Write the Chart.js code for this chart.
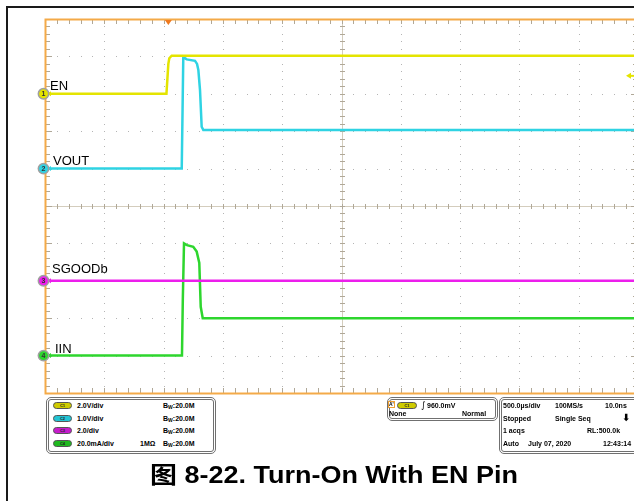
<!DOCTYPE html>
<html>
<head>
<meta charset="utf-8">
<script src="https://cdn.jsdelivr.net/npm/chart.js@4/dist/chart.umd.min.js"></script>
<style>
html,body{margin:0;padding:0;background:#fff;overflow:hidden;width:634px;height:501px;}
#wrap{position:relative;width:634px;height:501px;overflow:hidden;background:#fff;}
#frame{position:absolute;left:6px;top:6px;width:800px;height:600px;border-left:2px solid #1a1a1a;border-top:2px solid #1a1a1a;}
canvas{position:absolute;left:0;top:0;}
.t{position:absolute;white-space:nowrap;line-height:1;font-family:"Liberation Sans",Arial,sans-serif;color:#000;}
.b{font-weight:bold;}
.panel{position:absolute;box-sizing:border-box;border:3px double #707070;border-radius:5px;background:#fff;}
.chip{position:absolute;box-sizing:border-box;width:19px;height:7px;border-radius:4px;border:1px solid #555;font:bold 4px "Liberation Sans",Arial,sans-serif;line-height:5px;text-align:center;color:#222;}
</style>
</head>
<body>
<div id="wrap">
<div id="frame"></div>
<canvas id="c" width="660" height="501"></canvas>
<div id="overlay"></div>
</div>
<script>
// ---------- data ----------
const channelNames   = ["EN", "VOUT", "SGOODb", "IIN"];
const channelNumbers = ["1", "2", "3", "4"];
const channelScales  = [2.0, 1.0, 2.0, 20.0];   // units per division
const channelOffsets = [3, 1, -2, -4];          // divisions
const channelColors  = ["#e4e400", "#2fd3e3", "#ec1eec", "#2ed62e"];

// time in microseconds from the left edge of the screen (500 us/div)
const enTime   = [0, 1024, 1032, 1040, 1048, 1068, 5000];
const enVolts  = [0, 0, 0.8, 1.6, 1.9, 2.04, 2.04];

const voutTime  = [0, 1153, 1160, 1166, 1195, 1265, 1282, 1293, 1307, 1321, 1335, 5000];
const voutVolts = [0, 0, 1.6, 2.98, 2.92, 2.88, 2.80, 2.64, 2.10, 1.12, 1.03, 1.03];

const sgoodTime  = [0, 5000];
const sgoodVolts = [0, 0];

const iinTime      = [0, 1155, 1162, 1172, 1197, 1250, 1279, 1301, 1313, 1330, 5000];
const iinMilliamps = [0, 0, 30, 60, 59.1, 58.2, 55.6, 49.5, 26.1, 20, 20];

const triggerTime  = 1040;   // us
const triggerLevel = 0.96;   // V on C1
const triggerLabel = "960.0mV";

const scaleLabels = ["2.0V/div", "1.0V/div", "2.0/div", "20.0mA/div"];
const bandwidthLabel = "20.0M";
const timeReadout = [
  ["500.0µs/div", "100MS/s", "10.0ns"],
  ["Stopped", "Single Seq", ""],
  ["1 acqs", "", "RL:500.0k"],
  ["Auto", "July 07, 2020", "12:43:14"]
];
const caption = "图 8-22. Turn-On With EN Pin";

// ---------- build datasets ----------
const seriesTimes  = [enTime, voutTime, sgoodTime, iinTime];
const seriesValues = [enVolts, voutVolts, sgoodVolts, iinMilliamps];
const datasets = channelNames.map((name, k) => ({
  label: name,
  data: seriesTimes[k].map((t, i) => ({ x: t, y: channelOffsets[k] + seriesValues[k][i] / channelScales[k] })),
  borderColor: channelColors[k],
  borderWidth: 2.5,
  pointRadius: 0,
  tension: 0,
  fill: false
}));

const scopePlugin = {
  id: 'scope',
  beforeDatasetsDraw(chart) {
    const { ctx, chartArea: a, scales: { x, y } } = chart;
    ctx.save();
    // dotted graticule
    ctx.fillStyle = '#b4b4b4';
    for (let i = 1; i < 10; i++) {
      if (i === 5) continue;
      const px = Math.round(x.getPixelForValue(i * 500));
      for (let j = 1; j < 50; j++) {
        const py = Math.round(y.getPixelForValue(-5 + j * 0.2));
        ctx.fillRect(px, py, 1, 1);
      }
    }
    for (let i = -4; i <= 4; i++) {
      if (i === 0) continue;
      const py = Math.round(y.getPixelForValue(i));
      for (let j = 1; j < 50; j++) {
        const px = Math.round(x.getPixelForValue(j * 100));
        ctx.fillRect(px, py, 1, 1);
      }
    }
    // centre cross
    const cx = Math.round(x.getPixelForValue(2500)) + 0.5;
    const cy = Math.round(y.getPixelForValue(0)) + 0.5;
    ctx.strokeStyle = '#d4cdbd';
    ctx.lineWidth = 1;
    ctx.beginPath();
    ctx.moveTo(a.left, cy); ctx.lineTo(a.right, cy);
    ctx.moveTo(cx, a.top); ctx.lineTo(cx, a.bottom);
    ctx.stroke();
    // minor ticks
    ctx.strokeStyle = '#b0a898';
    ctx.beginPath();
    for (let j = 1; j < 50; j++) {
      const px = Math.round(x.getPixelForValue(j * 100)) + 0.5;
      ctx.moveTo(px, cy - 2.5); ctx.lineTo(px, cy + 2.5);
      ctx.moveTo(px, a.top); ctx.lineTo(px, a.top + 5);
      ctx.moveTo(px, a.bottom); ctx.lineTo(px, a.bottom - 5);
    }
    for (let j = 1; j < 50; j++) {
      const py = Math.round(y.getPixelForValue(-5 + j * 0.2)) + 0.5;
      ctx.moveTo(cx - 2.5, py); ctx.lineTo(cx + 2.5, py);
      const len = (j % 5 === 0) ? 7 : 5;
      ctx.moveTo(a.left, py); ctx.lineTo(a.left + len, py);
      ctx.moveTo(a.right, py); ctx.lineTo(a.right - len, py);
    }
    ctx.stroke();
    ctx.restore();
  },
  afterDatasetsDraw(chart) {
    const { ctx, chartArea: a, scales: { x, y } } = chart;
    ctx.save();
    // orange screen border
    ctx.strokeStyle = '#f4aa48';
    ctx.lineWidth = 2;
    ctx.strokeRect(a.left + 0.5, a.top + 0.5, a.right - a.left, a.bottom - a.top);
    // trigger position marker
    const tx = x.getPixelForValue(triggerTime);
    ctx.fillStyle = '#f07a1e';
    ctx.beginPath();
    ctx.moveTo(tx - 3.5, a.top + 1); ctx.lineTo(tx + 3.5, a.top + 1); ctx.lineTo(tx, a.top + 6);
    ctx.closePath(); ctx.fill();
    // trigger level arrow (C1)
    const ty = y.getPixelForValue(channelOffsets[0] + triggerLevel / channelScales[0]);
    ctx.fillStyle = channelColors[0];
    ctx.strokeStyle = channelColors[0];
    ctx.beginPath();
    ctx.moveTo(626, ty); ctx.lineTo(631, ty - 3); ctx.lineTo(631, ty + 3); ctx.closePath(); ctx.fill();
    ctx.lineWidth = 2;
    ctx.beginPath(); ctx.moveTo(630, ty); ctx.lineTo(a.right, ty); ctx.stroke();
    // channel ground markers
    channelNames.forEach((n, k) => {
      const py = y.getPixelForValue(channelOffsets[k]);
      ctx.fillStyle = channelColors[k];
      ctx.beginPath();
      ctx.moveTo(47, py); ctx.lineTo(51, py - 2.5); ctx.lineTo(51, py + 2.5); ctx.closePath(); ctx.fill();
      ctx.beginPath();
      ctx.arc(43.5, py, 5.2, 0, Math.PI * 2);
      ctx.fill();
      ctx.lineWidth = 1.5;
      ctx.strokeStyle = '#a0a0a0';
      ctx.stroke();
    });
    ctx.restore();
  }
};

const chart = new Chart(document.getElementById('c'), {
  type: 'line',
  data: { datasets },
  options: {
    responsive: false,
    animation: false,
    events: [],
    layout: { padding: { left: 45, top: 19, right: 22, bottom: 108 } },
    plugins: { legend: { display: false }, tooltip: { enabled: false } },
    scales: {
      x: { type: 'linear', min: 0, max: 5000, display: false },
      y: { type: 'linear', min: -5, max: 5, display: false }
    }
  },
  plugins: [scopePlugin]
});

// ---------- text overlay ----------
const ov = document.getElementById('overlay');
function txt(text, x, cy, size, bold, extra) {
  const d = document.createElement('div');
  d.className = 't' + (bold ? ' b' : '');
  d.style.left = x + 'px';
  d.style.top = (cy - size * 0.49) + 'px';
  d.style.fontSize = size + 'px';
  d.innerHTML = text;
  if (extra) Object.assign(d.style, extra);
  ov.appendChild(d);
  return d;
}
function box(cls, x, y, w, h, extra) {
  const d = document.createElement('div');
  d.className = cls;
  Object.assign(d.style, { left: x + 'px', top: y + 'px', width: w + 'px', height: h + 'px' }, extra || {});
  ov.appendChild(d);
  return d;
}

const ys = chart.scales.y;
const labelDx = [50, 53, 52, 55];
const labelDy = [-8.3, -8, -12.3, -7.6];
channelNames.forEach((n, k) => {
  const py = ys.getPixelForValue(channelOffsets[k]);
  txt(n, labelDx[k], py + labelDy[k], 13, false);
  txt(channelNumbers[k], 41.5, py, 7, true, { color: '#333' });
});

// left readout panel
box('panel', 46, 397, 170, 57);
const chipColors = ["#cfcb00", "#22c4d4", "#c61ccc", "#1fba1f"];
const rowY = [405.5, 418, 430.5, 443];
scaleLabels.forEach((s, k) => {
  const c = box('chip', 53, rowY[k] - 3.5, 19, 7, { background: chipColors[k] });
  c.textContent = 'C' + channelNumbers[k];
  txt(s, 77, rowY[k], 7, true);
  txt('B<sub style="font-size:5px;vertical-align:-1px">W</sub>:' + bandwidthLabel, 163, rowY[k], 7, true);
});
txt('1MΩ', 140, rowY[3], 7, true);

// trigger panel
box('panel', 387, 397, 111, 24);
box('', 388, 401, 7, 7, { position: 'absolute', boxSizing: 'border-box', border: '1px solid #f0a030', background: '#fff' });
txt("A'", 389, 404.5, 5, true);
const tc = box('chip', 397, 401.5, 20, 7, { background: chipColors[0] });
tc.textContent = 'C1';
txt('∫', 421, 405, 9, false, { fontFamily: '"DejaVu Sans",sans-serif' });
txt(triggerLabel, 427, 405, 7, true);
txt('None', 389, 413.5, 7, true);
txt('Normal', 462, 413.5, 7, true);

// time panel
box('panel', 499, 397, 160, 57);
const colX = [503, 555, 605];
timeReadout.forEach((row, r) => {
  row.forEach((s, c) => {
    if (!s) return;
    let x = colX[c];
    if (r === 2 && c === 2) x = 587;
    if (r === 3 && c === 1) x = 528;
    if (r === 3 && c === 2) x = 603;
    txt(s, x, rowY[r], 7, true);
  });
});
txt('⬇', 622, 418, 10, true, { fontFamily: '"DejaVu Sans",sans-serif' });

// caption
const cap = txt(caption, 150, 475.5, 23, true, { fontFamily: '"Liberation Sans",Arial,"Noto Sans CJK SC",sans-serif', transformOrigin: '0 50%' });
const w = cap.getBoundingClientRect().width;
cap.style.transform = 'scaleX(' + (368 / w) + ')';
</script>
</body>
</html>
